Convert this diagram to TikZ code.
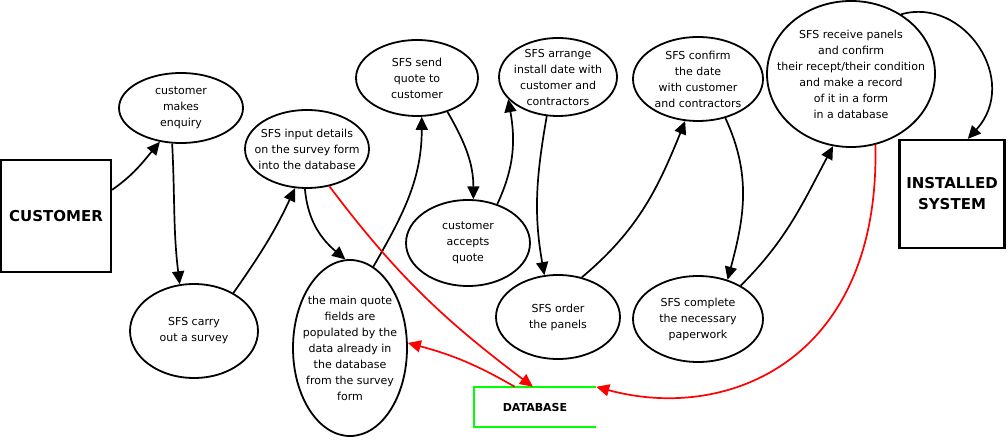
\documentclass[tikz,border=0pt]{standalone}
\usepackage{fontspec}
\setmainfont{DejaVu Sans}
\usetikzlibrary{shapes.geometric, arrows.meta, positioning, calc}
\tikzset{
  % Process ellipses
  procnode/.style={ellipse, draw=black, line width=1.8pt, inner sep=0pt},
  proctext/.style={align=center, inner sep=0pt, font=\fontsize{11}{16}\selectfont},
  % Actor boxes
  actorbox/.style={rectangle, draw=black, line width=2.2pt, inner sep=0pt, align=center, font=\bfseries\fontsize{15}{21}\selectfont},
  storebox/.style={inner sep=0pt, font=\bfseries\fontsize{11}{13}\selectfont},
  storeline/.style={draw=green, line width=2pt},
  % Pointers
  flowpointer/.style={-{Triangle[length=13pt, width=12pt]}, line width=1.7pt, draw=black},
  datapointer/.style={-{Triangle[length=13pt, width=12pt]}, line width=1.7pt, draw=red},
}

\begin{document}
\begin{tikzpicture}[x=1pt, y=1pt]
  \useasboundingbox (0,0) rectangle (1008,439);

  % Define actor boxes
  \node[actorbox, minimum width=110pt, minimum height=112pt] (customer) at (56,223) {CUSTOMER};
  \node[actorbox, minimum width=105pt, minimum height=108pt] (installed) at (952,245) {INSTALLED\\SYSTEM};
  \node[storebox, minimum width=122pt, minimum height=40pt] (database) at (535,32) {DATABASE};
  \draw[storeline] (database.north east) -- (database.north west) -- (database.south west) -- (database.south east);

  % Define process nodes
  \node[procnode, minimum width=124pt, minimum height=70pt, label={[proctext]center:{customer\\makes\\enquiry}}] (enquiry) at (181,331) {};
  \node[procnode, minimum width=128pt, minimum height=94pt, label={[proctext]center:{SFS carry\\out a survey}}] (survey) at (194,108) {};
  \node[procnode, minimum width=124pt, minimum height=78pt, label={[proctext]center:{SFS input details\\on the survey form\\into the database}}] (input) at (307,290) {};
  \node[procnode, minimum width=114pt, minimum height=176pt, label={[proctext]center:{the main quote\\fields are\\populated by the\\data already in\\the database\\from the survey\\form}}] (populate) at (350,91) {};
  \node[procnode, minimum width=122pt, minimum height=76pt, label={[proctext]center:{SFS send\\quote to\\customer}}] (sendquote) at (417,361) {};
  \node[procnode, minimum width=124pt, minimum height=86pt, label={[proctext]center:{customer\\accepts\\quote}}] (accept) at (468,196) {};
  \node[procnode, minimum width=118pt, minimum height=78pt, label={[proctext]center:{SFS arrange\\install date with\\customer and\\contractors}}] (arrange) at (558,362) {};
  \node[procnode, minimum width=124pt, minimum height=84pt, label={[proctext]center:{SFS order\\the panels}}] (order) at (558,122) {};
  \node[procnode, minimum width=130pt, minimum height=84pt, label={[proctext]center:{SFS confirm\\the date\\with customer\\and contractors}}] (confirm) at (698,360) {};
  \node[procnode, minimum width=130pt, minimum height=86pt, label={[proctext]center:{SFS complete\\the necessary\\paperwork}}] (paperwork) at (698,120) {};
  \node[procnode, minimum width=168pt, minimum height=146pt, label={[proctext]center:{SFS receive panels\\and confirm\\their recept/their condition\\and make a record\\of it in a form\\in a database}}] (receive) at (851,365) {};

  % Process flow
  \draw[flowpointer] (customer.25) to[out=35, in=230] (enquiry.238);
  \draw[flowpointer] (enquiry.256) to[out=-87, in=97] (survey.107);
  \draw[flowpointer] (survey.44) to[out=55, in=245] (input.253);
  \draw[flowpointer] (input.267) to[out=-85, in=140] (populate.93);
  \draw[flowpointer] (populate.74) to[out=60, in=-90] (sendquote.277);
  \draw[flowpointer] (sendquote.312) to[out=-60, in=90] (accept.83);
  \draw[flowpointer] (accept.53) to[out=65, in=280] (arrange.204);
  \draw[flowpointer] (arrange.254) to[out=260, in=100] (order.108);
  \draw[flowpointer] (order.59) to[out=40, in=248] (confirm.253);
  \draw[flowpointer] (confirm.305) to[out=-65, in=75] (paperwork.53);
  \draw[flowpointer] (paperwork.38) to[out=45, in=242] (receive.256);
  \draw[flowpointer] (receive.50) .. controls +(63,18) and +(53,58) .. (installed.74);

  % Database links
  \draw[datapointer] (input.301) to[out=-53, in=143] (database.96);
  \draw[datapointer] (database.135) to[out=150, in=-15] (populate.5);
  \draw[datapointer] (receive.289) .. controls +(5,-215) and +(132,-36) .. (database.north east);

\end{tikzpicture}
\end{document}
